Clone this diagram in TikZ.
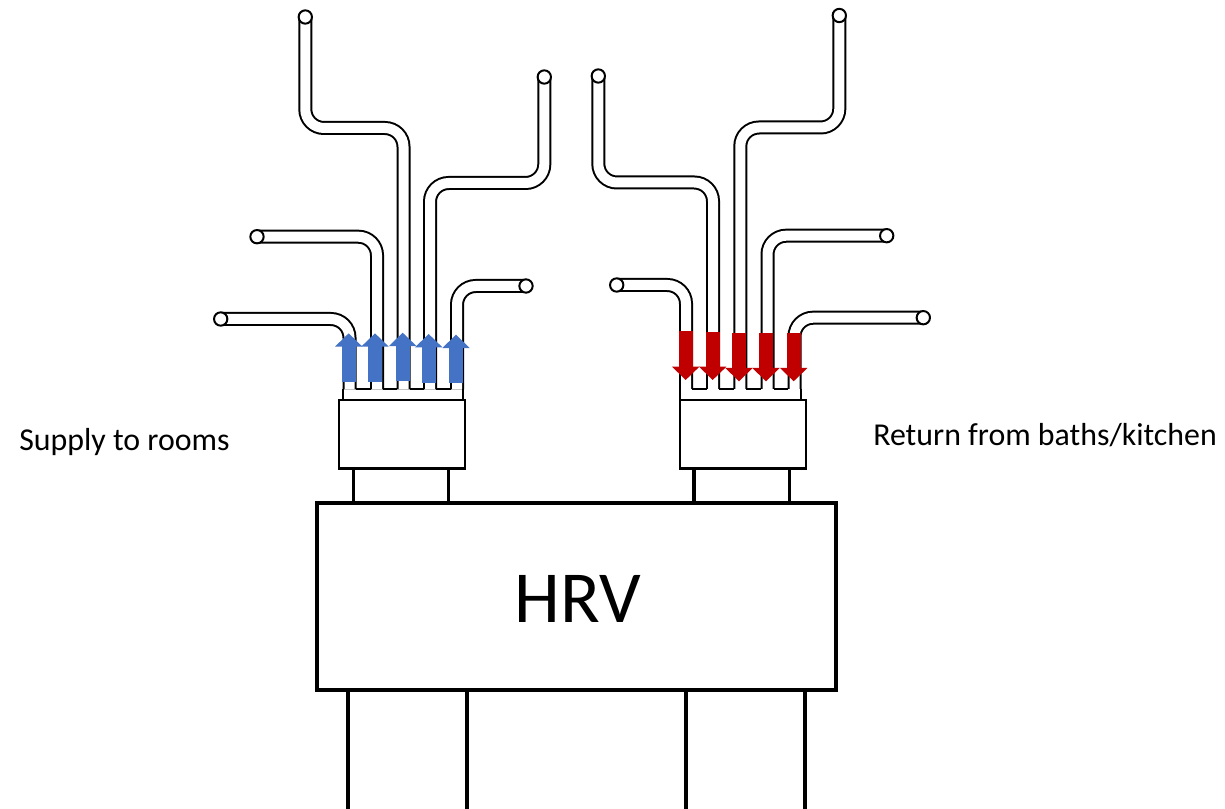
\documentclass[tikz,border=0pt]{standalone}
\usepackage{fontspec}
\setmainfont{Carlito}
\usetikzlibrary{arrows.meta}
\definecolor{supplyblue}{HTML}{4472C4}
\definecolor{returnred}{HTML}{C00000}
\tikzset{
  x=0.75pt, y=-0.75pt,
  duct/.style={draw=black, line width=1.5pt, double=white, double distance=7.5pt, rounded corners=14pt},
  ductedge/.style={draw=black, line width=1.5pt},
  endcap/.style={circle, draw=black, fill=white, line width=1.5pt, minimum size=10pt, inner sep=0pt},
  manifold/.style={draw=black, fill=white, line width=1.8pt, minimum width=94.5pt, minimum height=51.5pt, inner sep=0pt},
  neck/.style={draw=black, line width=2.3pt},
  hrvbox/.style={draw=black, fill=white, line width=3.4pt, minimum width=389pt, minimum height=140.5pt, inner sep=0pt},
  hrvtext/.style={font=\fontsize{55}{60}\selectfont, inner sep=0pt},
  leg/.style={draw=black, line width=2.3pt},
  label/.style={font=\fontsize{23.9}{28}\selectfont, inner sep=0pt},
  supplyflow/.style={draw=supplyblue, line width=10.5pt, -{Triangle[width=20pt,length=10pt,fill=supplyblue]}},
  returnflow/.style={draw=returnred, line width=10.5pt, -{Triangle[width=20pt,length=10pt,fill=returnred]}},
}
\begin{document}
\begin{tikzpicture}
\useasboundingbox (0,0) rectangle (1225,809);
% free ends of the ducts
\coordinate (a1) at (305.3,17);
\coordinate (a2) at (544.3,77);
\coordinate (a3) at (257,236.7);
\coordinate (a4) at (220.7,319);
\coordinate (a5) at (526,286);
\coordinate (b1) at (598.3,76);
\coordinate (b2) at (839.3,15.5);
\coordinate (b3) at (886.7,235.7);
\coordinate (b4) at (616.7,285);
\coordinate (b5) at (923.3,317.7);
% ends at the manifolds
\coordinate (ma1) at (403.5,389.5);
\coordinate (ma2) at (430,389.5);
\coordinate (ma3) at (377,389.5);
\coordinate (ma4) at (349.5,389.5);
\coordinate (ma5) at (457,389.5);
\coordinate (mb1) at (713,389);
\coordinate (mb2) at (740.3,389);
\coordinate (mb3) at (767.5,389);
\coordinate (mb4) at (686,389);
\coordinate (mb5) at (794.5,389);
% supply ducts
\draw[duct] (a1) -- (305.3,128) -- (403.5,128) -- (ma1);
\draw[duct] (a2) -- (544.3,183) -- (430,183) -- (ma2);
\draw[duct] (a3) -- (377,236.7) -- (ma3);
\draw[duct] (a4) -- (349.5,319) -- (ma4);
\draw[duct] (a5) -- (457,286) -- (ma5);
% return ducts
\draw[duct] (b1) -- (598.3,182.5) -- (713,182.5) -- (mb1);
\draw[duct] (b2) -- (839.3,127.5) -- (740.3,127.5) -- (mb2);
\draw[duct] (b3) -- (767.5,235.7) -- (mb3);
\draw[duct] (b4) -- (686,285) -- (mb4);
\draw[duct] (b5) -- (794.5,317.7) -- (mb5);
% duct openings
\foreach \n in {a1,a2,a3,a4,a5,b1,b2,b3,b4,b5} \node[endcap] (cap\n) at (\n) {};
% joints at the manifolds
\foreach \l/\r in {355.9/370.9,383.1/397.4,409.6/423.9,436.1/450.9} \draw[ductedge] (\l,389.3) -- (\r,389.3);
\foreach \l/\r in {692.1/706.9,719.1/734.2,746.4/761.4,773.6/788.4} \draw[ductedge] (\l,388.7) -- (\r,388.7);
\draw[ductedge] (343.4,389) -- (343.4,400);
\draw[ductedge] (463.1,389) -- (463.1,400);
\draw[ductedge] (679.9,389) -- (679.9,400);
\draw[ductedge] (800.6,389) -- (800.6,400);
% main unit
\node[hrvbox] (hrv) at (576.5,596.5) {};
\node[hrvtext, anchor=base] (hrvlabel) at (578,622) {HRV};
\node[manifold] (supply) at (402,434.3) {};
\node[manifold] (return) at (742.7,434.3) {};
\draw[neck] (353.3,469) -- (353.3,503);
\draw[neck] (448.7,469) -- (448.7,503);
\draw[neck] (694,469) -- (694,503);
\draw[neck] (789.3,469) -- (789.3,503);
\draw[leg] (348,690) -- (348,809);
\draw[leg] (467,690) -- (467,809);
\draw[leg] (686,690) -- (686,809);
\draw[leg] (805,690) -- (805,809);
% flow arrows
\coordinate (f1s) at (348.7,381.7); \coordinate (f1e) at (348.7,333.3);
\coordinate (f2s) at (375,381.7);   \coordinate (f2e) at (375,333.3);
\coordinate (f3s) at (402.7,381.3); \coordinate (f3e) at (402.7,332.7);
\coordinate (f4s) at (428.7,382.7); \coordinate (f4e) at (428.7,334);
\coordinate (f5s) at (456,383.3);   \coordinate (f5e) at (456,334.7);
\foreach \n in {1,...,5} \draw[supplyflow] (f\n s) -- (f\n e);
\coordinate (g1s) at (685.7,331);   \coordinate (g1e) at (685.7,380);
\coordinate (g2s) at (712.7,331.7); \coordinate (g2e) at (712.7,380);
\coordinate (g3s) at (739,333);     \coordinate (g3e) at (739,381.3);
\coordinate (g4s) at (766,332.7);   \coordinate (g4e) at (766,381.3);
\coordinate (g5s) at (793.7,332.7); \coordinate (g5e) at (793.7,381.3);
\foreach \n in {1,...,5} \draw[returnflow] (g\n s) -- (g\n e);
% labels
\node[label, anchor=base west] (lsupply) at (19,450) {Supply to rooms};
\node[label, anchor=base west] (lreturn) at (873,445) {Return from baths/kitchen};
\end{tikzpicture}
\end{document}
